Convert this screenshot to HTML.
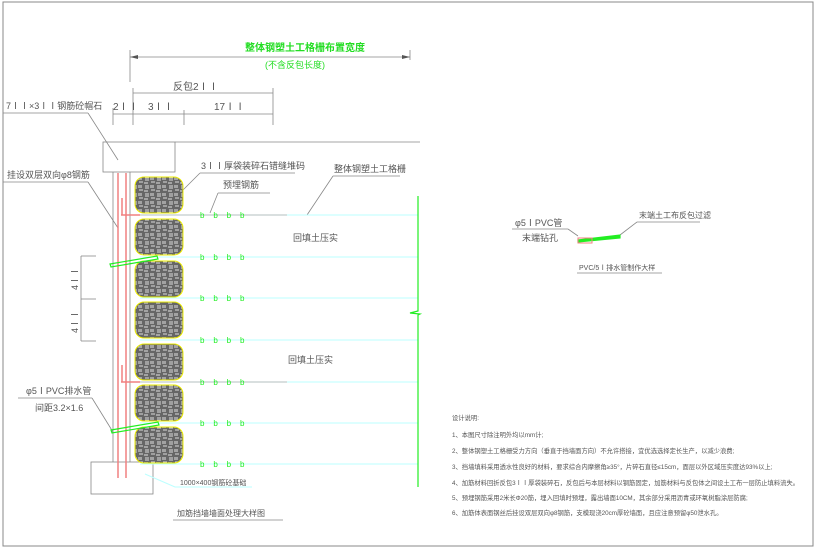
<!DOCTYPE html>
<html><head><meta charset="utf-8"><style>
html,body{margin:0;padding:0;background:#fff;width:818px;height:550px;overflow:hidden}
svg{display:block}
text{font-family:"Liberation Sans","Noto Sans CJK SC",sans-serif;fill:#555}
</style></head><body>
<svg width="818" height="550" viewBox="0 0 818 550" xmlns="http://www.w3.org/2000/svg">
<defs>
<pattern id="bp" width="12" height="8" patternUnits="userSpaceOnUse">
<rect width="12" height="8" fill="#666"/>
<path d="M1 2h4M1 4h4M7 1v3M9 1v3M7 6h4M1 6v2M3 6v2" stroke="#fff" stroke-width="0.8"/>
</pattern>
</defs>
<rect x="3" y="2" width="810" height="544" fill="none" stroke="#888" stroke-width="1"/>
<g stroke="#888" stroke-width="0.8">
<line x1="130" y1="57" x2="410" y2="57"/><line x1="130" y1="50" x2="130" y2="82"/><line x1="410" y1="50" x2="410" y2="60"/>
<line x1="133" y1="93" x2="273" y2="93"/>
<line x1="113" y1="114" x2="273" y2="114"/>
<line x1="113" y1="108" x2="113" y2="125"/><line x1="133" y1="88" x2="133" y2="125"/><line x1="184" y1="110" x2="184" y2="125"/><line x1="273" y1="88" x2="273" y2="125"/>
<line x1="3" y1="113" x2="88" y2="113"/><line x1="88" y1="113" x2="118" y2="160"/>
<line x1="3" y1="182" x2="88" y2="182"/><line x1="88" y1="182" x2="118" y2="228"/>
<rect x="103" y="142" width="72" height="30" fill="none"/>
<line x1="175" y1="142" x2="420" y2="142"/>
<line x1="113" y1="172" x2="113" y2="462"/><line x1="130" y1="172" x2="130" y2="462"/>
<rect x="91" y="462" width="62" height="32" fill="none"/>
<line x1="200" y1="173" x2="295" y2="173"/><line x1="200" y1="173" x2="183" y2="190"/>
<line x1="218" y1="193" x2="270" y2="193"/><line x1="218" y1="193" x2="210" y2="213"/>
<line x1="333" y1="176" x2="400" y2="176"/><line x1="333" y1="176" x2="307" y2="215"/>
<line x1="81" y1="256" x2="81" y2="341"/><line x1="81" y1="256" x2="96" y2="256"/><line x1="81" y1="299" x2="96" y2="299"/><line x1="81" y1="341" x2="96" y2="341"/>
<line x1="18" y1="398" x2="92" y2="398"/><line x1="92" y1="398" x2="113" y2="432"/>
<line x1="173" y1="520" x2="283" y2="520"/>
<line x1="512" y1="229" x2="568" y2="229"/><line x1="568" y1="229" x2="578" y2="236"/>
<line x1="637" y1="222" x2="700" y2="222"/><line x1="637" y1="222" x2="620" y2="235"/>
<line x1="577" y1="273" x2="662" y2="273"/>
</g>
<g fill="#555"><path d="M130 57l8-2v4zM410 57l-8-2v4z"/></g>
<g stroke="#f08080" stroke-width="1.5" fill="none">
<line x1="118" y1="173" x2="118" y2="478"/><line x1="126" y1="173" x2="126" y2="478"/>
<line x1="121" y1="215" x2="287" y2="215"/><line x1="121" y1="382" x2="287" y2="382"/>
<line x1="122" y1="198" x2="122" y2="215"/><line x1="122" y1="365" x2="122" y2="382"/>
</g>
<g stroke="#bff" stroke-width="1" fill="none">
<line x1="140" y1="215" x2="418" y2="215"/><line x1="140" y1="257" x2="418" y2="257"/><line x1="140" y1="298" x2="418" y2="298"/><line x1="140" y1="340" x2="418" y2="340"/><line x1="140" y1="382" x2="418" y2="382"/><line x1="140" y1="423" x2="418" y2="423"/><line x1="140" y1="464" x2="418" y2="464"/>
<path d="M145 474 L175 487 L252 487"/>
</g>
<g stroke="#ee0" stroke-width="1">
<rect x="135" y="177" width="48" height="36" rx="9" fill="url(#bp)"/>
<rect x="135" y="219" width="48" height="36" rx="9" fill="url(#bp)"/>
<rect x="135" y="261" width="48" height="36" rx="9" fill="url(#bp)"/>
<rect x="135" y="302" width="48" height="36" rx="9" fill="url(#bp)"/>
<rect x="135" y="344" width="48" height="36" rx="9" fill="url(#bp)"/>
<rect x="135" y="385" width="48" height="36" rx="9" fill="url(#bp)"/>
<rect x="135" y="427" width="48" height="36" rx="9" fill="url(#bp)"/>
</g>
<g stroke="#2e2" stroke-width="1.2" fill="none">
<path d="M418 196V311l-8 2 10 1-2 1V487"/>
<path d="M110 264l47-8 1 3-47 8z"/><path d="M111 430l47-8 1 3-47 8z"/>
<path d="M578 240l42-5v3l-42 4z" fill="#2e2"/>
</g>
<g style="font-size:8px">
<text x="200" y="218" style="fill:#2e2">b&#160;&#160;&#160;&#160;b&#160;&#160;&#160;&#160;b&#160;&#160;&#160;&#160;b</text>
<text x="200" y="260" style="fill:#2e2">b&#160;&#160;&#160;&#160;b&#160;&#160;&#160;&#160;b&#160;&#160;&#160;&#160;b</text>
<text x="200" y="301" style="fill:#2e2">b&#160;&#160;&#160;&#160;b&#160;&#160;&#160;&#160;b&#160;&#160;&#160;&#160;b</text>
<text x="200" y="343" style="fill:#2e2">b&#160;&#160;&#160;&#160;b&#160;&#160;&#160;&#160;b&#160;&#160;&#160;&#160;b</text>
<text x="200" y="385" style="fill:#2e2">b&#160;&#160;&#160;&#160;b&#160;&#160;&#160;&#160;b&#160;&#160;&#160;&#160;b</text>
<text x="200" y="426" style="fill:#2e2">b&#160;&#160;&#160;&#160;b&#160;&#160;&#160;&#160;b&#160;&#160;&#160;&#160;b</text>
<text x="200" y="467" style="fill:#2e2">b&#160;&#160;&#160;&#160;b&#160;&#160;&#160;&#160;b&#160;&#160;&#160;&#160;b</text>
</g>
<rect x="578" y="238" width="14" height="5" fill="none" stroke="#f08080"/>
<g font-size="10">
<text x="245" y="51" style="fill:#2d2;font-weight:bold">整体钢塑土工格栅布置宽度</text>
<text x="265" y="68" style="fill:#2d2" font-size="9">(不含反包长度)</text>
<text x="173" y="90">反包2ⅠⅠ</text>
<text x="113" y="110">2ⅠⅠ</text><text x="148" y="110">3ⅠⅠ</text><text x="214" y="110">17ⅠⅠ</text>
<text x="6" y="109" font-size="9">7ⅠⅠ×3ⅠⅠ钢筋砼帽石</text>
<text x="7" y="178" font-size="9">挂设双层双向φ8钢筋</text>
<text x="201" y="169" font-size="9">3ⅠⅠ厚袋装碎石错缝堆码</text>
<text x="223" y="188" font-size="9">预埋钢筋</text>
<text x="334" y="172" font-size="9">整体钢塑土工格栅</text>
<text x="293" y="241" font-size="9">回填土压实</text>
<text x="288" y="363" font-size="9">回填土压实</text>
<text x="26" y="394" font-size="9">φ5ⅠPVC排水管</text>
<text x="35" y="411" font-size="9">间距3.2×1.6</text>
<text x="180" y="485" font-size="7">1000×400钢筋砼基础</text>
<text x="177" y="516" font-size="8">加筋挡墙墙面处理大样图</text>
<text transform="translate(78,290) rotate(-90)" font-size="9">4ⅠⅠ</text>
<text transform="translate(78,333) rotate(-90)" font-size="9">4ⅠⅠ</text>
<text x="515" y="226" font-size="9">φ5ⅠPVC管</text>
<text x="522" y="241" font-size="9">末端钻孔</text>
<text x="639" y="218" font-size="8">末端土工布反包过滤</text>
<text x="579" y="270" font-size="7">PVC/5Ⅰ排水管制作大样</text>
</g>
<g font-size="6.3">
<text x="452" y="420">设计说明:</text>
<text x="452" y="437">1、本图尺寸除注明外均以mm计;</text>
<text x="452" y="453">2、整体钢塑土工格栅受力方向（垂直于挡墙面方向）不允许搭接，宜优选选择定长生产，以减少浪费;</text>
<text x="452" y="469">3、挡墙填料采用透水性良好的材料，要求综合内摩擦角≥35°，片碎石直径≤15cm，面层以外区域压实度达93%以上;</text>
<text x="452" y="485">4、加筋材料回折反包3ⅠⅠ厚袋装碎石，反包后与本层材料以钢筋固定，加筋材料与反包体之间设土工布一层防止填料流失。</text>
<text x="452" y="500">5、预埋钢筋采用2米长Φ20筋，埋入回填时预埋，露出墙面10CM，其余部分采用沥青或环氧树脂涂层防腐;</text>
<text x="452" y="515">6、加筋体表面钢丝后挂设双层双向φ8钢筋，支模现浇20cm厚砼墙面，且应注意预留φ50泄水孔。</text>
</g>
</svg>
</body></html>
